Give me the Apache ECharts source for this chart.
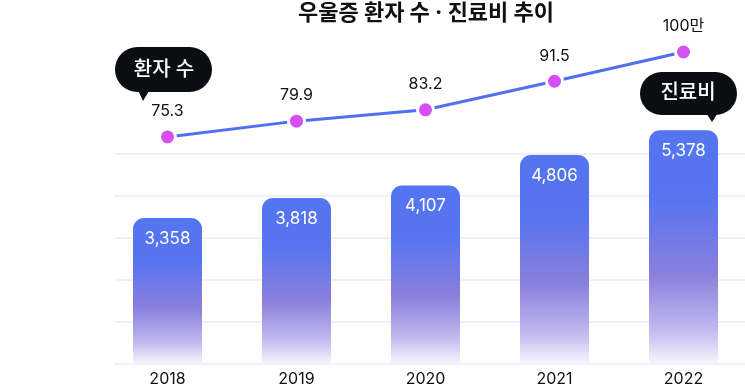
<!DOCTYPE html>
<html><head><meta charset="utf-8">
<script src="https://cdn.jsdelivr.net/npm/echarts@6/dist/echarts.min.js"></script>
<style>html,body{margin:0;padding:0;background:#fff}#c{width:745px;height:384px}</style>
</head><body><div id="c"></div>
<script>
const years = ['2018','2019','2020','2021','2022'];
const costs = [3358, 3818, 4107, 4806, 5378];      // 진료비 (억원)
const patients = [75.3, 79.9, 83.2, 91.5, 100];     // 환자 수 (만명)
const titleText = '우울증 환자 수 · 진료비 추이';

const FONT = "Inter, 'Noto Sans CJK KR', sans-serif";
const chart = echarts.init(document.getElementById('c'), null, {renderer:'canvas'});

const barGrad = new echarts.graphic.LinearGradient(0,0,0,1,[
  {offset:0, color:'#5474f1'},
  {offset:0.3, color:'#5874ef'},
  {offset:0.62, color:'#8a80dd'},
  {offset:0.85, color:'#c0b8ee'},
  {offset:1, color:'#f7f6fe'}
]);

chart.setOption({
  animation:false,
  textStyle:{fontFamily:FONT},
  title:{text:titleText, left:298, top:2, padding:0,
    textStyle:{fontSize:22, fontWeight:'bold', color:'#111', fontFamily:FONT}},
  grid:[
    {left:103, width:645, top:20, bottom:20, outerBoundsMode:'none'},
    {left:114, right:0, top:154, bottom:20, outerBoundsMode:'none'}
  ],
  xAxis:[
    {type:'category', data:years, gridIndex:0,
     axisLine:{show:false}, axisTick:{show:false},
     axisLabel:{color:'#111', fontSize:16, margin:7, fontFamily:FONT}},
    {type:'value', gridIndex:1, show:false, min:0, max:1}
  ],
  yAxis:[
    {type:'value', gridIndex:0, min:0, max:7912, show:false, splitLine:{show:false}},
    {type:'value', gridIndex:0, min:9.3, max:109.3, show:false, splitLine:{show:false}},
    {type:'value', gridIndex:1, min:0, max:5, interval:1,
     axisLine:{show:false}, axisTick:{show:false}, axisLabel:{show:false},
     splitLine:{show:true, lineStyle:{color:'#eef1fb', width:2}}}
  ],
  series:[
    {type:'bar', data:costs, xAxisIndex:0, yAxisIndex:0, barWidth:69,
     itemStyle:{color:barGrad, borderRadius:[11,11,0,0]},
     label:{show:true, position:'insideTop', distance:12, color:'#fff', fontSize:17,
       fontFamily:FONT, formatter:p=>p.value.toLocaleString('en-US')}},
    {type:'line', data:patients, xAxisIndex:0, yAxisIndex:1, z:5,
     lineStyle:{color:'#5070f0', width:3},
     symbol:'circle', symbolSize:16,
     itemStyle:{color:'#d64ff3', borderColor:'#fff', borderWidth:3},
     label:{show:true, position:'top', distance:8, color:'#111', fontSize:16, fontFamily:FONT,
       formatter:p=> p.value===100 ? '100만' : String(p.value)}}
  ],
  graphic:[
    {type:'group', children:[
      {type:'rect', shape:{x:115, y:47, width:97, height:45, r:22.5}, style:{fill:'#0b0d14'}},
      {type:'polygon', shape:{points:[[136,86],[152,86],[143,101]]}, style:{fill:'#0b0d14'}},
      {type:'text', x:164, y:69.5, style:{text:'환자 수', fill:'#fff', fontSize:20, fontWeight:500,
        fontFamily:FONT, align:'center', verticalAlign:'middle'}}
    ]},
    {type:'group', children:[
      {type:'rect', shape:{x:640, y:72, width:97, height:43, r:21.5}, style:{fill:'#0b0d14'}},
      {type:'polygon', shape:{points:[[703,108],[721,108],[712,122]]}, style:{fill:'#0b0d14'}},
      {type:'text', x:688, y:93, style:{text:'진료비', fill:'#fff', fontSize:20, fontWeight:500,
        fontFamily:FONT, align:'center', verticalAlign:'middle'}}
    ]}
  ]
});
</script></body></html>
